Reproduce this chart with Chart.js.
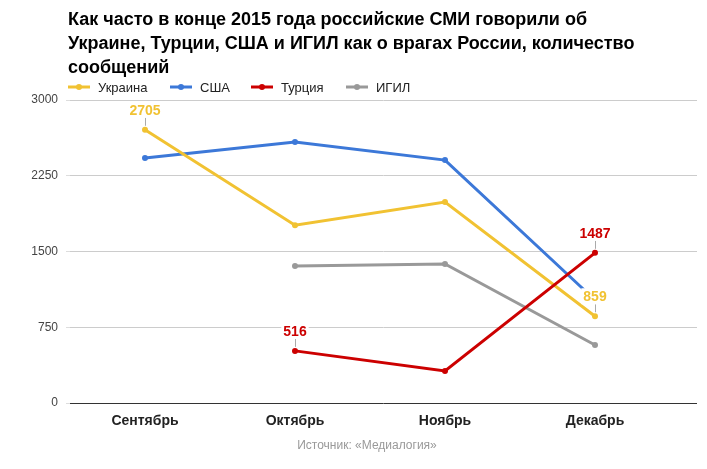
<!DOCTYPE html>
<html>
<head>
<meta charset="utf-8">
<script src="https://cdn.jsdelivr.net/npm/chart.js@4/dist/chart.umd.min.js"></script>
<style>
  html, body { margin: 0; padding: 0; background: #fff; }
  #wrap { width: 707px; height: 469px; position: relative; }
</style>
</head>
<body>
<div id="wrap"><canvas id="myChart"></canvas></div>
<script>
const months = ['Сентябрь', 'Октябрь', 'Ноябрь', 'Декабрь'];
const ukraine = [2705, 1760, 1990, 859];
const usa = [2425, 2585, 2405, 1020];
const turkey = [null, 516, 317, 1487];
const isis = [null, 1356, 1376, 574];
const yTicks = [0, 750, 1500, 2250, 3000];

const titleLines = [
  'Как часто в конце 2015 года российские СМИ говорили об',
  'Украине, Турции, США и ИГИЛ как о врагах России, количество',
  'сообщений'
];
const sourceText = 'Источник: «Медиалогия»';

// which points get a value label: [dataset index, point index]
const labelled = [[0, 0], [0, 3], [2, 1], [2, 3]];

const font = '"Liberation Sans", Arial, sans-serif';
const toXY = arr => arr.map((v, i) => ({ x: i, y: v }));

// title, legend, source and value labels
const decor = {
  id: 'decor',
  afterDraw(chart) {
    const ctx = chart.ctx;
    ctx.save();
    ctx.fillStyle = '#000';
    ctx.font = 'bold 18px ' + font;
    ctx.textBaseline = 'middle';
    ctx.textAlign = 'left';
    titleLines.forEach((t, i) => ctx.fillText(t, 68, 20 + i * 24));

    // legend
    const legendX = [68, 170, 251, 346];
    ctx.font = '13px ' + font;
    chart.data.datasets.forEach((ds, i) => {
      const x = legendX[i], y = 87;
      ctx.strokeStyle = ds.borderColor;
      ctx.lineWidth = 3;
      ctx.beginPath(); ctx.moveTo(x, y); ctx.lineTo(x + 22, y); ctx.stroke();
      ctx.fillStyle = ds.borderColor;
      ctx.beginPath(); ctx.arc(x + 11, y, 3, 0, Math.PI * 2); ctx.fill();
      ctx.fillStyle = '#222';
      ctx.fillText(ds.label, x + 30, y + 1);
    });

    // value labels
    ctx.font = 'bold 14px ' + font;
    ctx.textAlign = 'center';
    labelled.forEach(([d, p]) => {
      const ds = chart.data.datasets[d];
      const el = chart.getDatasetMeta(d).data[p];
      const txt = String(ds.data[p].y);
      ctx.strokeStyle = '#aaa';
      ctx.lineWidth = 1;
      ctx.beginPath(); ctx.moveTo(el.x + 0.5, el.y - 4); ctx.lineTo(el.x + 0.5, el.y - 12); ctx.stroke();
      const w = ctx.measureText(txt).width;
      ctx.fillStyle = '#fff';
      ctx.fillRect(el.x - w / 2 - 2, el.y - 28, w + 4, 16);
      ctx.fillStyle = ds.borderColor;
      ctx.fillText(txt, el.x, el.y - 19);
    });

    ctx.font = '12px ' + font;
    ctx.fillStyle = '#999';
    ctx.fillText(sourceText, 367, 446);
    ctx.restore();
  }
};

const mk = (label, data, color, order) => ({
  label, data: toXY(data), borderColor: color, backgroundColor: color,
  borderWidth: 3, pointRadius: 3, pointHoverRadius: 3, pointBorderWidth: 0,
  tension: 0, spanGaps: false, order
});

new Chart(document.getElementById('myChart'), {
  type: 'line',
  data: {
    datasets: [
      mk('Украина', ukraine, '#f1c232', 2),
      mk('США', usa, '#3c78d8', 3),
      mk('Турция', turkey, '#cc0000', 0),
      mk('ИГИЛ', isis, '#999999', 1)
    ]
  },
  options: {
    responsive: true,
    maintainAspectRatio: false,
    animation: false,
    layout: { padding: { top: 100, right: 10, bottom: 0, left: 0 } },
    plugins: { legend: { display: false }, title: { display: false }, tooltip: { enabled: false } },
    scales: {
      x: {
        type: 'linear',
        min: -0.5,
        max: 3.68,
        afterBuildTicks: s => { s.ticks = months.map((m, i) => ({ value: i })); },
        afterFit: s => { s.height = 66; },
        grid: { display: false, drawTicks: false },
        border: { display: false },
        ticks: {
          padding: 10,
          color: '#222',
          font: { family: font, size: 14, weight: 'bold' },
          callback: v => months[v]
        }
      },
      y: {
        min: 0,
        max: 3000,
        afterBuildTicks: s => { s.ticks = yTicks.map(v => ({ value: v })); },
        afterFit: s => { s.width = 70; },
        border: { display: false },
        grid: {
          color: c => c.tick && c.tick.value === 0 ? '#333' : '#ccc',
          tickLength: 4,
          tickColor: '#ddd'
        },
        ticks: { padding: 8, color: '#444', font: { family: font, size: 12 }, callback: v => String(v) }
      }
    }
  },
  plugins: [decor]
});
</script>
</body>
</html>
